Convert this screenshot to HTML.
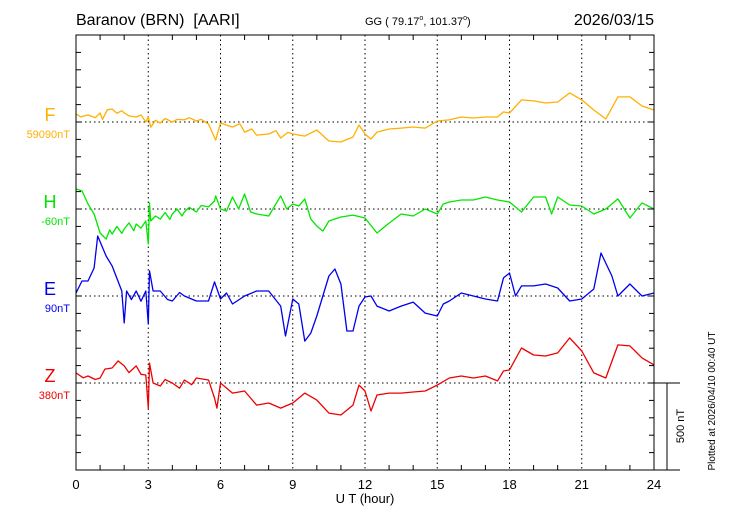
<!DOCTYPE html>
<html><head><meta charset="utf-8"><style>
body{margin:0;background:#fff}
svg text{font-family:"Liberation Sans",sans-serif}
</style></head><body>
<svg id="chart" width="730" height="520" xmlns="http://www.w3.org/2000/svg">
<text x="76" y="25" font-size="16" xml:space="preserve">Baranov (BRN)&#160;&#160;[AARI]</text>
<text x="365" y="25" font-size="11">GG ( 79.17<tspan font-size="7" dy="-5">o</tspan><tspan dy="5">, 101.37</tspan><tspan font-size="7" dy="-5">o</tspan><tspan dy="5">)</tspan></text>
<text x="654" y="25" font-size="16" text-anchor="end">2026/03/15</text>
<g id="grid"></g>
<g id="series"></g>
<rect x="76" y="35" width="578" height="435" fill="none" stroke="#000" stroke-width="1"/>
<g id="axes"></g>
<text x="365" y="503" font-size="13" text-anchor="middle">U T (hour)</text>
<g stroke="#000">
<line x1="654" y1="383" x2="680" y2="383"/><line x1="654" y1="470" x2="680" y2="470"/><line x1="667" y1="383" x2="667" y2="470"/>
</g>
<text transform="translate(684,426) rotate(-90)" font-size="11" text-anchor="middle">500 nT</text>
<text transform="translate(715,401) rotate(-90)" font-size="10" text-anchor="middle">Plotted at 2026/04/10 00:40 UT</text>
</svg>
<script>
const xTicks=[0,3,6,9,12,15,18,21,24];
const seriesNames=["F","H","E","Z"];
const seriesOffsets=["59090nT","-60nT","90nT","380nT"];
const fTimes=[0,0.2,0.5,0.8,1,1.1,1.3,1.5,1.7,1.9,2,2.2,2.5,2.7,2.9,3,3.1,3.3,3.5,3.7,4,4.2,4.5,4.7,5,5.2,5.5,5.8,6,6.3,6.5,6.8,7,7.3,7.5,8,8.3,8.5,8.8,9,9.5,10,10.5,11,11.5,11.75,12,12.25,12.5,13,13.5,14,14.5,15,15.5,16,16.5,17,17.5,17.75,18,18.5,19,19.5,20,20.5,21,21.5,22,22.5,23,23.5,24];
const fValues=[46,30,40,25,52,15,70,75,50,65,52,35,29,40,0,30,-30,10,-6,20,0,15,12,25,6,15,-12,-104,-6,-20,-29,-10,-58,-40,-75,-69,-50,-92,-60,-69,-81,-46,-109,-115,-86,-17,-69,-98,-58,-40,-35,-29,-35,6,12,29,23,29,29,58,52,127,121,109,115,167,127,69,17,144,144,92,69];
const hTimes=[0,0.25,0.5,0.75,1,1.25,1.4,1.5,1.7,1.9,2,2.2,2.4,2.5,2.7,2.9,3,3.05,3.1,3.3,3.5,3.7,3.9,4,4.2,4.4,4.5,4.7,5,5.2,5.5,5.75,5.8,6,6.25,6.5,6.75,7,7.25,7.5,8,8.5,8.75,9,9.25,9.5,9.75,10,10.25,10.5,11,11.5,12,12.5,13,13.5,14,14.5,15,15.25,15.5,16,16.5,17,17.5,18,18.5,19,19.5,19.75,20,20.5,21,21.5,22,22.5,23,23.5,24];
const hValues=[115,104,29,-29,-138,-173,-120,-144,-100,-140,-115,-80,-125,-86,-110,-69,-201,35,-69,-40,-58,-20,-60,-29,0,-40,-17,10,-17,20,12,46,75,0,-12,69,0,86,-17,-29,-40,75,0,29,17,58,-58,-98,-127,-69,-46,-35,-52,-138,-81,-29,-40,0,-29,29,40,52,52,69,52,40,-17,69,69,-29,69,23,17,-29,0,58,-52,35,0];
const eTimes=[0,0.25,0.5,0.75,0.9,1.25,1.5,1.9,2,2.1,2.3,2.5,2.7,2.9,3,3.05,3.2,3.5,3.8,4,4.3,4.5,5,5.5,5.75,6,6.25,6.5,7,7.5,8,8.5,8.7,9,9.25,9.5,9.75,10,10.5,10.75,11,11.25,11.5,11.75,12,12.25,12.5,13,13.5,14,14.5,15,15.25,15.5,16,16.5,17,17.5,17.75,18,18.25,18.5,19,19.5,20,20.5,21,21.5,21.8,22.25,22.5,23,23.5,24];
const eValues=[17,86,86,161,345,230,173,29,-155,29,-20,29,-30,29,-161,144,29,29,-20,-29,20,0,-29,-29,81,-17,17,-46,0,29,29,-58,-230,-17,-46,-259,-213,-115,115,155,69,-201,-201,-58,-6,0,-58,-86,-58,-35,-98,-115,-46,-29,17,0,-17,-29,104,132,0,58,58,69,46,-29,-17,40,247,115,0,69,0,17];
const zTimes=[0,0.3,0.5,0.8,1,1.2,1.5,1.75,2,2.2,2.5,2.7,2.9,3,3.05,3.2,3.5,3.7,4,4.3,4.5,4.8,5,5.5,5.75,5.85,6,6.5,7,7.5,8,8.5,9,9.5,10,10.5,11,11.5,11.75,12,12.25,12.5,13,13.5,14,14.5,15,15.5,16,16.5,17,17.5,17.75,18,18.5,19,19.5,20,20.5,21,21.5,22,22.5,23,23.5,24];
const zValues=[58,30,40,20,29,80,86,127,98,60,98,50,46,-144,115,0,-17,20,0,-30,17,-10,29,17,-86,-144,0,-58,-46,-127,-115,-144,-115,-58,-98,-173,-184,-127,-12,-46,-161,-69,-58,-58,-52,-46,-12,29,40,29,40,12,69,75,201,161,155,173,259,184,58,29,219,213,144,104];

const NS="http://www.w3.org/2000/svg";
const X0=76,X1=654,Y0=35,Y1=470;
const baselines=[122,209,296,383];
const colors=["#FFB000","#00E800","#0000EE","#EE0000"];
const pxPerNT=87/500;
const xs=t=>X0+(X1-X0)*t/24;
const ys=(v,i)=>baselines[i]-v*pxPerNT;
function mk(tag,attrs,parent){const e=document.createElementNS(NS,tag);for(const k in attrs)e.setAttribute(k,attrs[k]);parent.appendChild(e);return e;}
const grid=document.getElementById('grid'),axes=document.getElementById('axes'),sg=document.getElementById('series');
xTicks.forEach(t=>{
  if(t>0&&t<24){const l=mk('line',{x1:xs(t),y1:Y0,x2:xs(t),y2:Y1,stroke:'#000','stroke-dasharray':'1.5,3'},grid);
  
  }
  const tx=mk('text',{x:xs(t),y:489,'font-size':13,'text-anchor':'middle'},axes);tx.textContent=t;
  
  
});
baselines.forEach(b=>{const l=mk('line',{x1:X0,y1:b,x2:X1,y2:b,stroke:'#000','stroke-dasharray':'1.5,3'},grid);
  
  });
for(let h=1;h<24;h++){
  if(h%3===0)continue;
  mk('line',{x1:xs(h),y1:Y0,x2:xs(h),y2:Y0+5,stroke:'#000'},axes);
  mk('line',{x1:xs(h),y1:Y1,x2:xs(h),y2:Y1-5,stroke:'#000'},axes);
}
for(let k=1;k<25;k++){
  const y=Y0+k*87/5;
  mk('line',{x1:X0,y1:y,x2:X0+5,y2:y,stroke:'#000'},axes);
  mk('line',{x1:X1,y1:y,x2:X1-5,y2:y,stroke:'#000'},axes);
}
const allT=[fTimes,hTimes,eTimes,zTimes],allV=[fValues,hValues,eValues,zValues];
allT.forEach((T,i)=>{
  const d=T.map((t,j)=>(j?'L':'M')+xs(t).toFixed(1)+','+ys(allV[i][j],i).toFixed(1)).join('');
  const p=mk('path',{d:d,fill:'none',stroke:colors[i],'stroke-width':1.3,'stroke-linejoin':'round'},sg);
  
  
  const n=mk('text',{x:50,y:baselines[i]-1,'font-size':18,fill:colors[i],'text-anchor':'middle'},axes);n.textContent=seriesNames[i];
  
  
  const o=mk('text',{x:70,y:baselines[i]+16,'font-size':11,fill:colors[i],'text-anchor':'end'},axes);o.textContent=seriesOffsets[i];
  
  
});
</script>
</body></html>
